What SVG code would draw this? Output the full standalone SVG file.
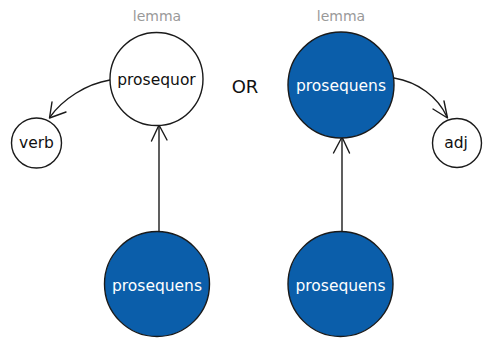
<svg xmlns="http://www.w3.org/2000/svg" width="483" height="338" viewBox="0 0 483 338">
  <style>
    .node { stroke: #1a1a1a; stroke-width: 1.4; }
    .white { fill: #ffffff; }
    .blue { fill: #0b5eaa; }
    .label { font-family: "DejaVu Sans", "Liberation Sans", sans-serif; font-size: 15.5px; text-anchor: middle; }
    .dark { fill: #111111; }
    .light { fill: #ffffff; }
    .lemma { font-family: "DejaVu Sans", "Liberation Sans", sans-serif; font-size: 14px; text-anchor: middle; fill: #999999; }
    .edge { fill: none; stroke: #1a1a1a; stroke-width: 1.4; stroke-linecap: round; stroke-linejoin: round; }
  </style>
  <rect width="483" height="338" fill="#ffffff"/>

  <text class="lemma" x="157" y="21">lemma</text>
  <text class="lemma" x="341" y="21">lemma</text>
  <text x="245" y="93" font-family="DejaVu Sans, Liberation Sans, sans-serif" font-size="18" text-anchor="middle" fill="#111111">OR</text>

  <g id="connectors">
    <!-- prosequor -> verb -->
    <path class="edge" d="M110,80 C86,84 63,99 50,117"/>
    <path class="edge" d="M52,102 L49.5,118 L66,112"/>
    <!-- prosequens (lemma) -> adj -->
    <path class="edge" d="M394,78 C418,82 438,97 447,117"/>
    <path class="edge" d="M433,109 L447.5,118 L444,101"/>
    <!-- bottom-left -> prosequor -->
    <path class="edge" d="M159,231 L159,126"/>
    <path class="edge" d="M151.5,141 L159,125 L167,140"/>
    <!-- bottom-right -> prosequens (lemma) -->
    <path class="edge" d="M342,232 L342,138"/>
    <path class="edge" d="M333.5,153 L342,137 L349.5,153"/>
  </g>

  <g id="prosequor">
    <circle class="node white" cx="156.5" cy="79" r="46.5"/>
    <text class="label dark" x="156.5" y="85">prosequor</text>
  </g>
  <g id="verb">
    <circle class="node white" cx="36.5" cy="143" r="25"/>
    <text class="label dark" x="36.5" y="148">verb</text>
  </g>
  <g id="prosequens-lemma">
    <circle class="node blue" cx="341" cy="85" r="53"/>
    <text class="label light" x="341" y="91">prosequens</text>
  </g>
  <g id="adj">
    <circle class="node white" cx="457" cy="143" r="24.5"/>
    <text class="label dark" x="456" y="148">adj</text>
  </g>
  <g id="prosequens-left">
    <circle class="node blue" cx="157" cy="284" r="52.5"/>
    <text class="label light" x="157" y="291">prosequens</text>
  </g>
  <g id="prosequens-right">
    <circle class="node blue" cx="340.5" cy="284" r="52.5"/>
    <text class="label light" x="340.5" y="291">prosequens</text>
  </g>
</svg>
